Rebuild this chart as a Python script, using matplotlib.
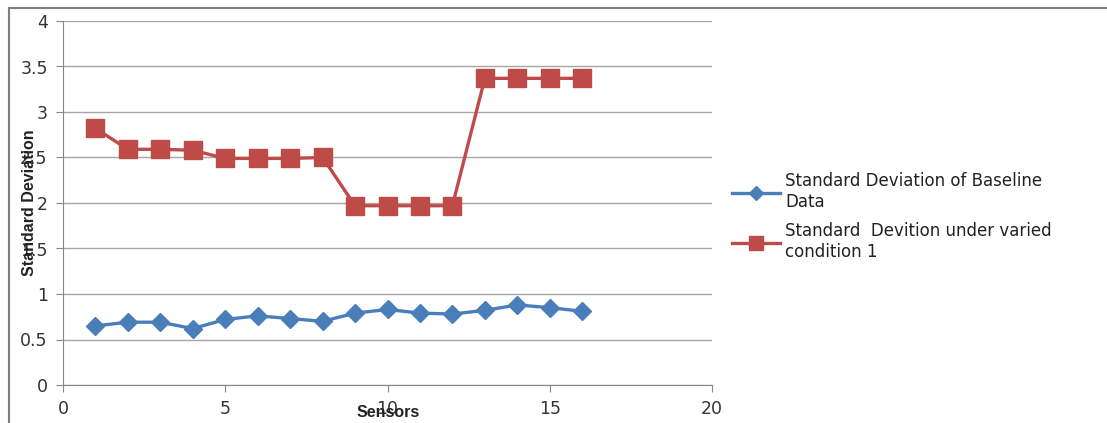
import matplotlib.pyplot as plt
from matplotlib.lines import Line2D

sensors = list(range(1, 17))
baseline_sd = [0.65, 0.69, 0.69, 0.62, 0.72, 0.76, 0.73, 0.70,
               0.79, 0.83, 0.79, 0.78, 0.82, 0.88, 0.85, 0.81]
varied_sd = [2.82, 2.59, 2.59, 2.58, 2.49, 2.49, 2.49, 2.50,
             1.97, 1.97, 1.97, 1.97, 3.37, 3.37, 3.37, 3.37]
labels = ["Standard Deviation of Baseline\nData",
          "Standard  Devition under varied\ncondition 1"]

plt.rcParams['font.family'] = ['DejaVu Sans']

W, H = 1107, 423
fig = plt.figure(figsize=(W / 100, H / 100), dpi=100)
ax = fig.add_axes([63 / W, 1 - 385 / H, (712 - 63) / W, (385 - 21) / H])

blue = '#4A7EBB'
red = '#BE4B48'
ax.plot(sensors, baseline_sd, color=blue, lw=2.4, marker='D', ms=9.5,
        label=labels[0], zorder=3)
ax.plot(sensors, varied_sd, color=red, lw=2.4, marker='s', ms=13,
        label=labels[1], zorder=3)

ax.set_xlim(0, 20)
ax.set_ylim(0, 4)
ax.set_xticks([0, 5, 10, 15, 20])
ax.set_yticks([0, 0.5, 1, 1.5, 2, 2.5, 3, 3.5, 4])
ax.set_yticklabels(['0', '0.5', '1', '1.5', '2', '2.5', '3', '3.5', '4'])
ax.grid(axis='y', color='#a6a6a6', lw=1)
ax.set_axisbelow(True)
for s in ['top', 'right']:
    ax.spines[s].set_visible(False)
for s in ['left', 'bottom']:
    ax.spines[s].set_color('#868686')
ax.tick_params(axis='both', colors='#868686', labelcolor='#333333',
               labelsize=12.5, length=5)
ax.tick_params(axis='y', pad=6)
ax.tick_params(axis='x', direction='out', pad=6)

fig.text(30 / W, 1 - 203 / H, "Standard Deviation", rotation=90,
         ha='center', va='center', fontsize=11.5, fontweight='bold',
         color='#222222', family='Liberation Sans')
fig.text(388 / W, 1 - 412 / H, "Sensors", ha='center', va='center',
         fontsize=11.5, fontweight='bold', color='#222222', family='Liberation Sans')

handles = [Line2D([], [], color=blue, lw=2.4, marker='D', ms=7),
           Line2D([], [], color=red, lw=2.4, marker='s', ms=10)]
fig.legend(handles, labels, loc='upper left', bbox_to_anchor=(717 / W, 1 - 157 / H),
           frameon=False, fontsize=12, handlelength=2.9, labelspacing=0.7,
           handletextpad=0.3, labelcolor='#222222')

# outer chart border (top and left edges)
fig.add_artist(Line2D([9 / W, 9 / W], [0, 1 - 8 / H], color='#7f7f7f', lw=1.5))
fig.add_artist(Line2D([9 / W, 1], [1 - 8 / H, 1 - 8 / H], color='#7f7f7f', lw=1.5))

fig.savefig("out.png", dpi=100)
